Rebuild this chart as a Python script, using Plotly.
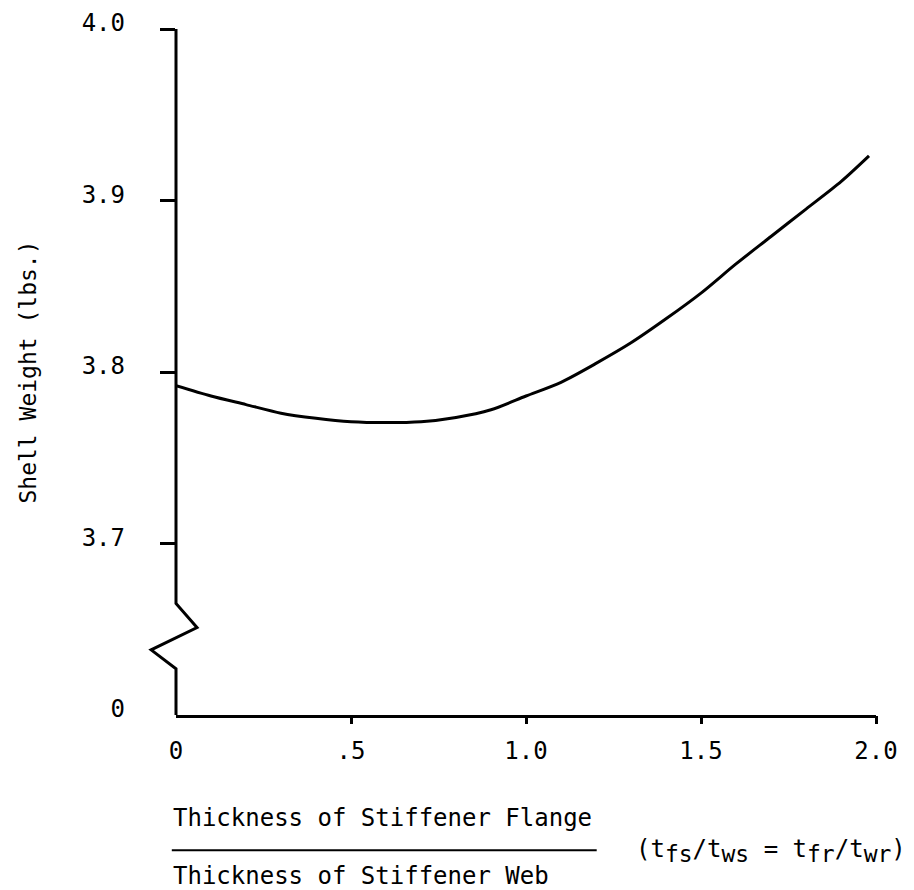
import plotly.graph_objects as go

# Data
ratio = [0.0, 0.1, 0.2, 0.3, 0.4, 0.5, 0.6, 0.7, 0.8, 0.9, 1.0,
         1.1, 1.2, 1.3, 1.4, 1.5, 1.6, 1.7, 1.8, 1.9, 1.98]
weight = [3.792, 3.786, 3.781, 3.776, 3.773, 3.771, 3.7705, 3.771, 3.7735, 3.778, 3.786,
          3.794, 3.805, 3.817, 3.831, 3.846, 3.863, 3.879, 3.895, 3.911, 3.926]

x_tickvals = [0, 0.5, 1.0, 1.5, 2.0]
x_ticktext = ["0", ".5", "1.0", "1.5", "2.0"]
y_tickvals = [3.6, 3.7, 3.8, 3.9, 4.0]
y_ticktext = ["0", "3.7", "3.8", "3.9", "4.0"]

X_RANGE = [0, 2.0]
Y_RANGE = [3.6, 4.0]

# axis break (data units): y where the zig-zag starts/ends, x excursions
break_y = [3.665, 3.651, 3.638, 3.627]
break_x = [0.0, 0.06, -0.071, 0.0]

FONT = "DejaVu Sans Mono"
FS = 24

fig = go.Figure()
fig.add_trace(go.Scatter(
    x=ratio, y=weight, mode="lines",
    line=dict(color="black", width=3, shape="spline", smoothing=0.8),
    hoverinfo="skip", showlegend=False))
# invisible trace to activate the tick-only overlay axes
fig.add_trace(go.Scatter(x=[1.0], y=[3.8], xaxis="x2", yaxis="y2", mode="markers",
                         marker=dict(opacity=0), hoverinfo="skip", showlegend=False))

def ydom(v):
    return (v - Y_RANGE[0]) / (Y_RANGE[1] - Y_RANGE[0])

def xdom(v):
    return (v - X_RANGE[0]) / (X_RANGE[1] - X_RANGE[0])

# y-axis line with zig-zag break
pts = [(xdom(0), ydom(Y_RANGE[1]))]
for bx, by in zip(break_x, break_y):
    pts.append((xdom(bx), ydom(by)))
pts.append((xdom(0), ydom(Y_RANGE[0])))
path = "M " + " L ".join(f"{px:.5f},{py:.5f}" for px, py in pts)
fig.add_shape(type="path", path=path, xref="x domain", yref="y domain",
              line=dict(color="black", width=3), layer="above")

# fraction bar under the x-axis title
fig.add_shape(type="line", xref="paper", yref="paper",
              x0=-0.006, x1=0.601, y0=-0.197, y1=-0.197,
              line=dict(color="black", width=2))

fig.add_annotation(text="Thickness of Stiffener Flange", xref="paper", yref="paper",
                   x=0, y=0, xshift=-5, yshift=-103, xanchor="left", yanchor="middle",
                   showarrow=False, font=dict(family=FONT, size=FS, color="black"))
fig.add_annotation(text="Thickness of Stiffener Web", xref="paper", yref="paper",
                   x=0, y=0, xshift=-5, yshift=-161, xanchor="left", yanchor="middle",
                   showarrow=False, font=dict(family=FONT, size=FS, color="black"))
sub = lambda s: f"<sub><span style='font-size:23px'>{s}</span></sub>"
fig.add_annotation(text=f"(t{sub('fs')}/t{sub('ws')} = t{sub('fr')}/t{sub('wr')})",
                   xref="paper", yref="paper", x=0, y=0, xshift=458, yshift=-136,
                   xanchor="left", yanchor="middle", showarrow=False,
                   font=dict(family=FONT, size=FS, color="black"))

fig.update_layout(
    width=906, height=882,
    margin=dict(l=168, r=38, t=21, b=175, autoexpand=False),
    paper_bgcolor="white", plot_bgcolor="white",
    font=dict(family=FONT, size=FS, color="black"),
    xaxis=dict(range=X_RANGE, tickvals=x_tickvals, ticktext=x_ticktext,
               ticks="", showgrid=False, zeroline=False, automargin=False,
               showline=True, linecolor="black", linewidth=3,
               ticklabelstandoff=12, tickfont=dict(family=FONT, size=FS)),
    yaxis=dict(range=Y_RANGE, tickvals=y_tickvals, ticktext=y_ticktext,
               ticks="", showgrid=False, zeroline=False, showline=False,
               automargin=False,
               ticklabelstandoff=50, ticklabelshift=-6,
               tickfont=dict(family=FONT, size=FS),
               title=dict(text="Shell Weight (lbs.)", standoff=38,
                          font=dict(family=FONT, size=23))),
    xaxis2=dict(range=X_RANGE, overlaying="x", anchor="y2", side="bottom",
                tickvals=x_tickvals[1:], ticks="outside", ticklen=8, tickwidth=3,
                tickcolor="black", showticklabels=False, showgrid=False,
                zeroline=False, showline=False, automargin=False),
    yaxis2=dict(range=Y_RANGE, overlaying="y", anchor="x2", side="left",
                tickvals=y_tickvals[1:], ticks="outside", ticklen=15, tickwidth=3,
                tickcolor="black", showticklabels=False, showgrid=False,
                zeroline=False, showline=False, automargin=False),
    showlegend=False,
)

fig.write_html("out.html")
